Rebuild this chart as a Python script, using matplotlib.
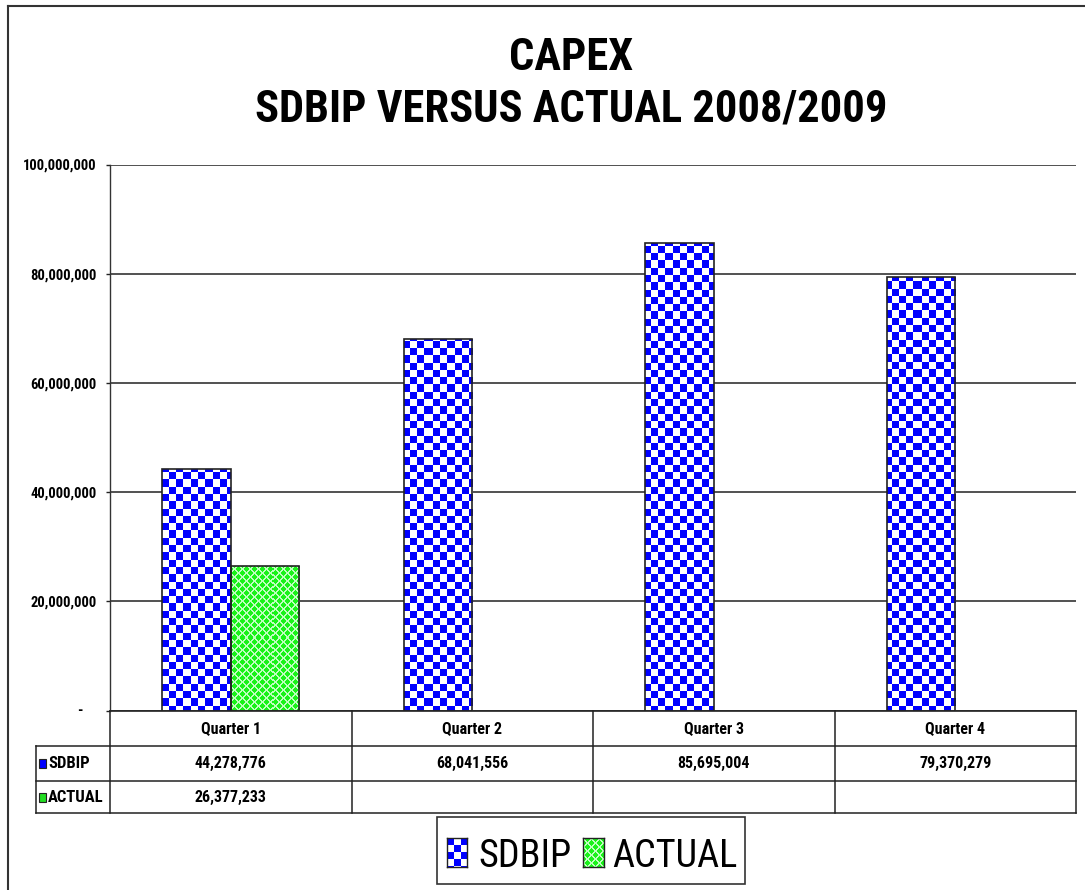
import os
import numpy as np
import matplotlib
matplotlib.use('Agg')
import matplotlib.pyplot as plt
from matplotlib import font_manager as fm
from matplotlib.patches import Rectangle
from matplotlib.lines import Line2D
import matplotlib.ticker as mticker

# ---------------- data ----------------
categories = ['Quarter 1', 'Quarter 2', 'Quarter 3', 'Quarter 4']
sdbip = [44278776, 68041556, 85695004, 79370279]
actual = [26377233, np.nan, np.nan, np.nan]
series_names = ['SDBIP', 'ACTUAL']
title_lines = ['CAPEX', 'SDBIP VERSUS ACTUAL 2008/2009']
y_ticks = [0, 20000000, 40000000, 60000000, 80000000, 100000000]

# ---------------- fonts (look for a narrow / condensed face) ----------------
files = [f.fname for f in fm.fontManager.ttflist]
files += fm.findSystemFonts()
files = sorted(set(files))


def find_font(keys_list, bold):
    for keys in keys_list:
        for fn in files:
            b = os.path.basename(fn).lower().replace('-', '').replace('_', '')
            if all(k in b for k in keys):
                is_bold = 'bold' in b
                if 'italic' in b or 'oblique' in b:
                    continue
                if bold and is_bold and 'semibold' not in b and 'extrabold' not in b:
                    return fn
                if not bold and not is_bold and 'light' not in b and 'thin' not in b \
                        and 'medium' not in b and 'black' not in b:
                    return fn
    return None


prefs = [('liberationsansnarrow',), ('arialnarrow',), ('robotocondensed',),
         ('dejavusanscondensed',), ('opensanscondensed',), ('notosanscondensed',)]
REG_FILE = find_font(prefs, bold=False)
BOLD_FILE = find_font(prefs, bold=True)


def fp(size, bold=False):
    fn = BOLD_FILE if bold else REG_FILE
    if fn:
        return fm.FontProperties(fname=fn, size=size)
    return fm.FontProperties(family='Liberation Sans', size=size,
                             weight='bold' if bold else 'normal')


W, H = 1085, 890
fig = plt.figure(figsize=(W / 100, H / 100), dpi=100)
fig.patch.set_facecolor('white')


def fx(px):
    return px / W


def fy(py):
    return 1 - py / H


AX_L, AX_R, AX_T, AX_B = 110, 1076, 164.5, 710.5
AXW, AXH = AX_R - AX_L, AX_B - AX_T
ax = fig.add_axes([fx(AX_L), fy(AX_B), AXW / W, AXH / H])
XLIM = (-0.5, len(categories) - 0.5)
YLIM = (0, y_ticks[-1])


def ya(py):  # pixel y -> axes fraction
    return (AX_B - py) / AXH


def xa(px):  # pixel x -> axes fraction
    return (px - AX_L) / AXW


# ---------------- textures ----------------
BLUE = np.array([0.0, 0.0, 1.0])
WHITE = np.array([1.0, 1.0, 1.0])
GREEN = np.array([0.1, 0.95, 0.1])
LGREEN = np.array([0.75, 1.0, 0.75])


def checker_tex(hpx, wpx, s=7.3):
    i, j = np.indices((int(hpx), int(wpx)))
    m = ((i / s).astype(int) + (j / s).astype(int)) % 2
    return np.where(m[..., None] == 0, BLUE, WHITE)


def green_tex(hpx, wpx, p=8):
    i, j = np.indices((int(hpx), int(wpx)))
    m = ((i + j) % p < 2) | ((i - j) % p < 2)
    return np.where(m[..., None], LGREEN, GREEN)


tex_blue = checker_tex(AXH, AXW)
tex_green = green_tex(AXH, AXW)

# ---------------- bars ----------------
x = np.arange(len(categories))
bw = 0.284
bars1 = ax.bar(x - bw / 2, sdbip, bw, color='white', edgecolor='none', zorder=2)
bars2 = ax.bar(x + bw / 2, actual, bw, color='white', edgecolor='none', zorder=2)
for bars, tex in ((bars1, tex_blue), (bars2, tex_green)):
    for r in bars:
        if not np.isfinite(r.get_height()):
            continue
        im = ax.imshow(tex, extent=(XLIM[0], XLIM[1], YLIM[0], YLIM[1]),
                       aspect='auto', interpolation='nearest', zorder=2.5)
        im.set_clip_path(r)
ax.bar(x - bw / 2, sdbip, bw, color='none', edgecolor='#222222', lw=1.2, zorder=3)
ax.bar(x + bw / 2, actual, bw, color='none', edgecolor='#222222', lw=1.2, zorder=3)

ax.set_xlim(*XLIM)
ax.set_ylim(*YLIM)

# ---------------- axes styling ----------------
for s in ('top', 'right'):
    ax.spines[s].set_visible(False)
ax.spines['left'].set_color('#333333')
ax.spines['bottom'].set_color('#222222')
ax.spines['left'].set_linewidth(1.0)
ax.spines['bottom'].set_linewidth(1.2)
ax.set_xticks([])
ax.set_yticks(y_ticks)
ax.yaxis.set_major_formatter(mticker.FuncFormatter(
    lambda v, p: '' if v == 0 else f'{v:,.0f}'))
ax.tick_params(axis='y', direction='out', length=3, width=1, pad=6.5,
               colors='#222222', labelcolor='black')
for lab in ax.get_yticklabels():
    lab.set_fontproperties(fp(10.5, True))
ax.yaxis.grid(True, color='#222222', lw=1.1)
ax.set_axisbelow(True)
fig.text(fx(80), fy(711), '-', ha='center', va='center',
         fontproperties=fp(11, True))

# ---------------- data table ----------------
tr = ax.get_xaxis_transform()
ROW_B = [746, 781, 813]
LAB_L = 36
bounds = np.arange(len(categories) + 1) - 0.5
for b in bounds:
    ax.plot([b, b], [0, ya(ROW_B[-1])], transform=tr, color='#222222',
            lw=1.1, clip_on=False)
for yb in ROW_B:
    ax.plot([xa(LAB_L), 1], [ya(yb), ya(yb)], transform=ax.transAxes,
            color='#222222', lw=1.1, clip_on=False)
ax.plot([xa(LAB_L), xa(LAB_L)], [ya(ROW_B[0]), ya(ROW_B[-1])],
        transform=ax.transAxes, color='#222222', lw=1.1, clip_on=False)

row_centers = [(AX_B + ROW_B[0]) / 2, (ROW_B[0] + ROW_B[1]) / 2, (ROW_B[1] + ROW_B[2]) / 2]
for i, c in enumerate(categories):
    ax.text(i, ya(row_centers[0]), c, transform=tr, ha='center', va='center',
            fontproperties=fp(11.5, True))
    ax.text(i, ya(row_centers[1]), f'{sdbip[i]:,.0f}', transform=tr,
            ha='center', va='center', fontproperties=fp(11.5, True))
    if np.isfinite(actual[i]):
        ax.text(i, ya(row_centers[2]), f'{actual[i]:,.0f}', transform=tr,
                ha='center', va='center', fontproperties=fp(11.5, True))

sw_cols = ['#0000ff', '#22dd22']
for k, name in enumerate(series_names):
    cy = row_centers[k + 1]
    fig.add_artist(Rectangle((fx(38.5), fy(cy + 4.5)), 7 / W, 9 / H,
                             transform=fig.transFigure, facecolor=sw_cols[k],
                             edgecolor='#222222', lw=0.8))
    fig.text(fx(48), fy(cy), name, ha='left', va='center',
             fontproperties=fp(12, True))

# ---------------- titles ----------------
fig.text(fx(571), fy(70), title_lines[0], ha='center', va='baseline',
         fontproperties=fp(32, True))
fig.text(fx(571), fy(122), title_lines[1], ha='center', va='baseline',
         fontproperties=fp(32, True))

# ---------------- legend ----------------
fig.add_artist(Rectangle((fx(437), fy(884)), 308 / W, 67 / H,
                         transform=fig.transFigure, facecolor='white',
                         edgecolor='#333333', lw=1.2, zorder=-1))
leg_items = [(447, checker_tex(29, 20, 7), series_names[0], 478),
             (583, green_tex(29, 21, 8), series_names[1], 612)]
for sx, tex, name, tx in leg_items:
    sax = fig.add_axes([fx(sx), fy(867), tex.shape[1] / W, 29 / H])
    sax.imshow(tex, aspect='auto', interpolation='nearest')
    sax.set_xticks([]); sax.set_yticks([])
    for sp in sax.spines.values():
        sp.set_color('#222222'); sp.set_linewidth(1.0)
    fig.text(fx(tx), fy(867), name, ha='left', va='baseline',
             fontproperties=fp(27.5))

# ---------------- outer chart border ----------------
fig.add_artist(Line2D([fx(8), 1], [fy(6), fy(6)], transform=fig.transFigure,
                      color='#333333', lw=1.5))
fig.add_artist(Line2D([fx(8), fx(8)], [fy(6), 0], transform=fig.transFigure,
                      color='#333333', lw=1.5))

fig.savefig('out.png', dpi=100)
